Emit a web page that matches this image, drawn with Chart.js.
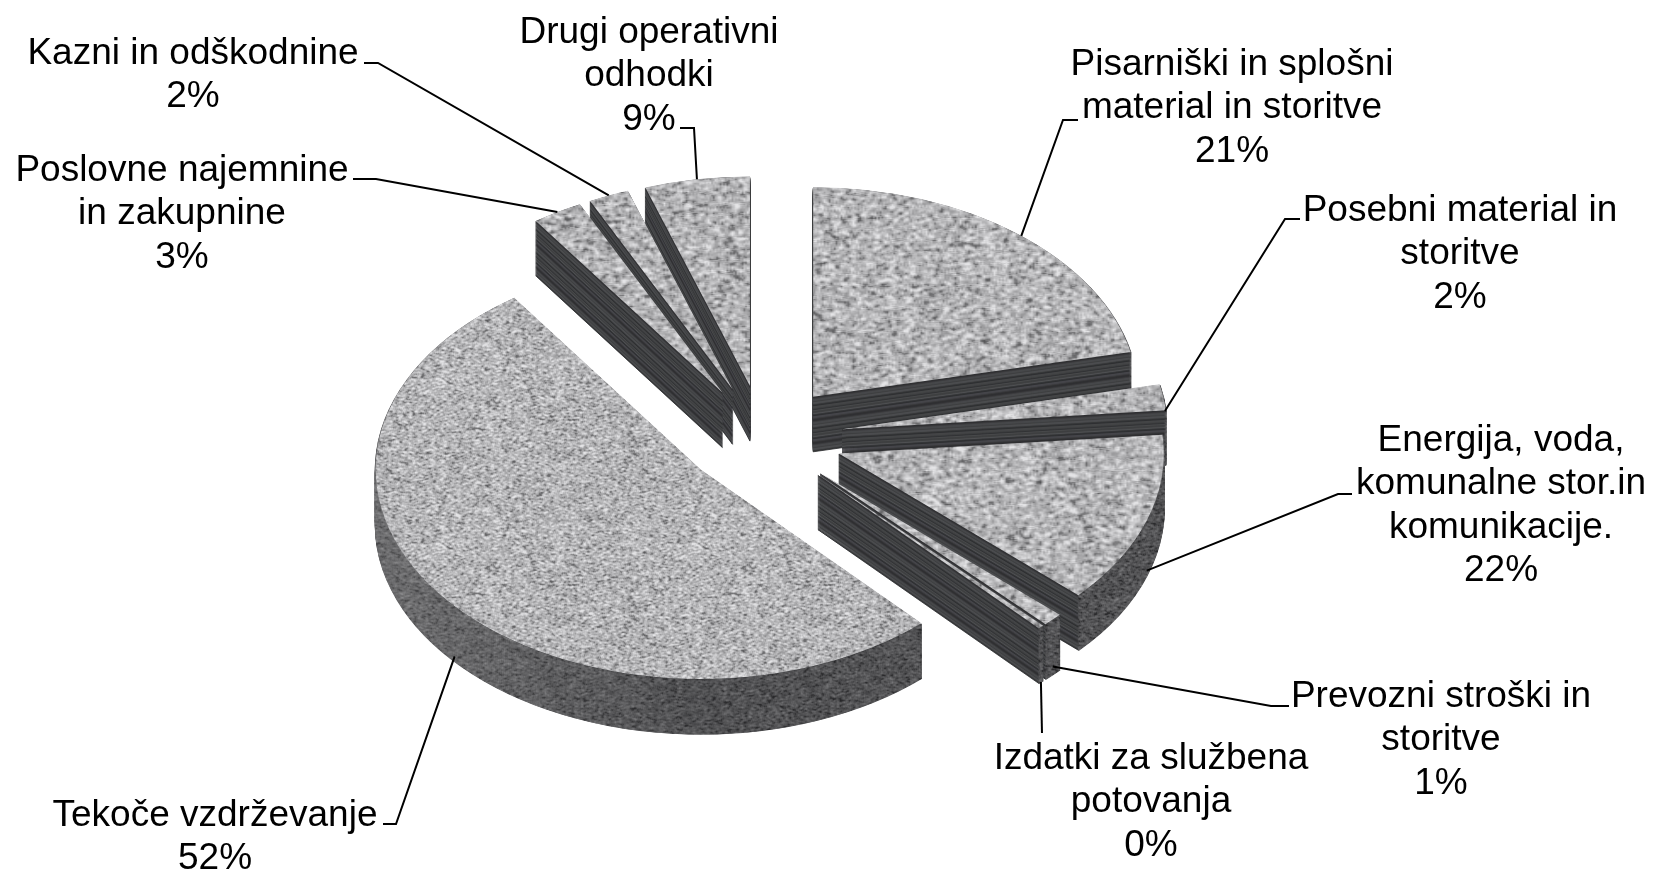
<!DOCTYPE html>
<html>
<head>
<meta charset="utf-8">
<title>Odhodki</title>
<script src="https://cdn.jsdelivr.net/npm/chart.js@4"></script>
<style>
  html, body { margin: 0; padding: 0; background: #fff; }
  canvas { display: block; }
</style>
</head>
<body>
<canvas id="pie" width="1654" height="871"></canvas>
<script>
// clockwise from 12 o'clock
const categories = [
  ['Pisarniški in splošni', 'material in storitve'],
  ['Posebni material in', 'storitve'],
  ['Energija, voda,', 'komunalne stor.in', 'komunikacije.'],
  ['Prevozni stroški in', 'storitve'],
  ['Izdatki za službena', 'potovanja'],
  ['Tekoče vzdrževanje'],
  ['Poslovne najemnine', 'in zakupnine'],
  ['Kazni in odškodnine'],
  ['Drugi operativni', 'odhodki'],
];
// printed percentages (they add up to 112 in the source)
const percentLabels = [21, 2, 22, 1, 0, 52, 3, 2, 9];
// slice sizes as they are drawn in the picture
const sliceShares = [21.5, 2, 13.2, 1, 0.3, 52, 2.5, 2, 5.2];

const pieRadius = 325;
const squash = 0.645;
const explode = 80;
const depth = 55;
const paintOrder = [8, 7, 6, 0, 1, 2, 3, 4, 5];
const stripes = ['#2f3032', '#2f3032', '#3a3b3d', '#47484a', '#47484a', '#3d3e40', '#4c4d4f', '#4c4d4f', '#38393b', '#2c2d2f', '#444547', '#444547', '#3e3f41', '#303133', '#494a4c', '#3e3f41', '#3e3f41', '#525355', '#37383a', '#2c2d2f', '#45464a', '#45464a', '#3a3b3d'];

// [center x, first baseline]
const labelPos = [[1232, 75], [1460, 221], [1501, 451], [1441, 707], [1151, 769], [215, 826], [182, 181], [193, 64], [649, 43]];
// label side of each leader line, then where it lands on the slice
const leaderElbows = [
  [[1078, 120], [1063, 120]],
  [[1300, 219], [1285, 219]],
  [[1352, 494], [1338, 494]],
  [[1289, 706], [1271, 706]],
  [[1042, 733]],
  [[383, 824], [396, 824]],
  [[353, 179], [376, 179]],
  [[364, 63], [378, 63]],
  [[680, 128], [694, 128]],
];
const leaderFrac = [0.513, 0.8, 0.5, 0.5, 0.5, 0.49, 0.5, 0.5, 0.5];
const leaderDrop = [0, 6, 50, 47, 55, 50, 0, 0, 0];

function seededNoise(size, seed, mean, spread, lo, hi) {
  let s = seed;
  const raw = new Float32Array(size * size);
  for (let i = 0; i < raw.length; i++) {
    s = (s * 1664525 + 1013904223) >>> 0;
    raw[i] = s / 4294967296 - 0.5;
  }
  const out = document.createElement('canvas');
  out.width = out.height = size;
  const c = out.getContext('2d');
  const img = c.createImageData(size, size);
  const at = (x, y) => raw[((y + size) % size) * size + ((x + size) % size)];
  for (let y = 0; y < size; y++) {
    for (let x = 0; x < size; x++) {
      let v = 0;
      for (let dx = -1; dx <= 1; dx++) for (let dy = -1; dy <= 1; dy++) v += at(x + dx, y + dy);
      // darker flecks in the stone texture
      let g = mean + v * spread;
      if (v < -1.3) g -= spread * 0.8;
      g = Math.max(lo, Math.min(hi, g));
      const i = (y * size + x) * 4;
      img.data[i] = img.data[i + 1] = g;
      img.data[i + 2] = g + 2;
      img.data[i + 3] = 255;
    }
  }
  c.putImageData(img, 0, 0);
  return out;
}

const canvas = document.getElementById('pie');
const ctx = canvas.getContext('2d');
const topNoise = seededNoise(256, 7, 180, 25, 85, 228);
const fineTop = ctx.createPattern(topNoise, 'repeat');
const coarseTop = ctx.createPattern(topNoise, 'repeat');
coarseTop.setTransform(new DOMMatrix().scale(1.7));
const sidePattern = ctx.createPattern(seededNoise(256, 31, 84, 14, 38, 130), 'repeat');

function arcPoint(arc, frac, drop) {
  const mid = (arc.startAngle + arc.endAngle) / 2;
  const a = arc.startAngle + frac * (arc.endAngle - arc.startAngle);
  return [
    arc.x + explode * Math.cos(mid) + arc.outerRadius * Math.cos(a),
    arc.y + squash * (explode * Math.sin(mid) + arc.outerRadius * Math.sin(a)) + drop,
  ];
}

const pie3d = {
  id: 'pie3d',
  beforeDatasetsDraw(chart) {
    const c = chart.ctx;
    const arcs = chart.getDatasetMeta(0).data;
    paintOrder.forEach(idx => {
      const arc = arcs[idx];
      const mid = (arc.startAngle + arc.endAngle) / 2;
      const place = layer => {
        c.translate(0, layer + arc.y);
        c.scale(1, squash);
        c.translate(explode * Math.cos(mid), -arc.y + explode * Math.sin(mid));
      };
      const sheen = c.createLinearGradient(arc.x - arc.outerRadius, 0, arc.x, 0);
      sheen.addColorStop(0, 'rgba(255,255,255,0.16)');
      sheen.addColorStop(1, 'rgba(255,255,255,0)');
      const base = arc.options;
      for (let layer = depth; layer >= 1; layer--) {
        const stripe = stripes[layer % stripes.length];
        c.save();
        place(layer);
        arc.options = { ...base, backgroundColor: stripe, borderColor: stripe, borderWidth: 1 };
        arc.draw(c);
        sidePattern.setTransform(new DOMMatrix().translate(0, -layer / squash));
        c.lineWidth = 2;
        c.beginPath();
        c.arc(arc.x, arc.y, arc.outerRadius, arc.startAngle, arc.endAngle);
        c.strokeStyle = sidePattern;
        c.stroke();
        c.strokeStyle = sheen;
        c.stroke();
        c.restore();
      }
      arc.options = base;
      c.save();
      place(0);
      arc.draw(c);
      c.restore();
    });
    return false;
  },
  afterDraw(chart) {
    const c = chart.ctx;
    const arcs = chart.getDatasetMeta(0).data;
    c.save();
    c.strokeStyle = '#000';
    c.lineWidth = 2;
    leaderElbows.forEach((pts, i) => {
      const end = arcPoint(arcs[i], leaderFrac[i], leaderDrop[i]);
      c.beginPath();
      pts.forEach((p, k) => (k ? c.lineTo(p[0], p[1]) : c.moveTo(p[0], p[1])));
      c.lineTo(end[0], end[1]);
      c.stroke();
    });
    c.fillStyle = '#000';
    c.font = '37px "Liberation Sans"';
    c.textAlign = 'center';
    c.textBaseline = 'alphabetic';
    categories.forEach((lines, i) => {
      const [x, y] = labelPos[i];
      lines.concat(percentLabels[i] + '%').forEach((t, k) => c.fillText(t, x, y + k * 43.3));
    });
    c.restore();
  },
};

new Chart(ctx, {
  type: 'pie',
  data: {
    labels: categories.map(l => l.join(' ')),
    datasets: [{
      data: sliceShares,
      backgroundColor: categories.map((_, i) => (i === 5 ? fineTop : coarseTop)),
      borderWidth: 0,
    }],
  },
  options: {
    responsive: false,
    animation: false,
    radius: pieRadius,
    layout: { padding: { right: 128, top: 3 } },
    plugins: { legend: { display: false }, tooltip: { enabled: false } },
  },
  plugins: [pie3d],
});
</script>
</body>
</html>
